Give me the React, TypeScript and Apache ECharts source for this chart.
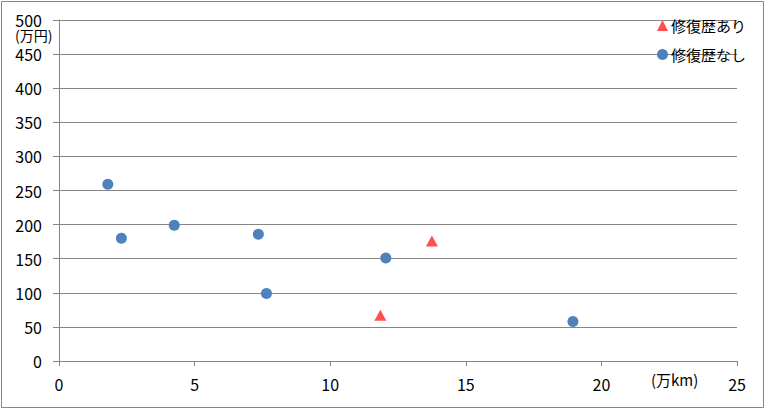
import React, { useEffect, useRef } from "react";
import * as echarts from "echarts";

const seriesNames = ["修復歴あり", "修復歴なし"];
// [distance (万km), price (万円)]
const repairedPoints: [number, number][] = [
  [11.85, 67],
  [13.75, 176],
];
const unrepairedPoints: [number, number][] = [
  [1.8, 259],
  [2.3, 180],
  [4.25, 199],
  [7.35, 186],
  [7.65, 99],
  [12.05, 151],
  [18.95, 58],
];
const xUnit = "(万km)";
const yUnit = "(万円)";

const FONT = "'Noto Sans CJK JP', 'Noto Sans', sans-serif";
const GRAY = "#868686";

export default function App() {
  const ref = useRef<HTMLDivElement>(null);
  useEffect(() => {
    if (!ref.current) return;
    const chart = echarts.init(ref.current, undefined, { renderer: "svg" });
    chart.setOption({
      animation: false,
      backgroundColor: "#fff",
      textStyle: { fontFamily: FONT },
      grid: { left: 59, top: 20, width: 678, height: 341, containLabel: false },
      xAxis: {
        type: "value",
        min: 0,
        max: 25,
        interval: 5,
        axisLine: { show: true, lineStyle: { color: GRAY, width: 1 } },
        axisTick: { show: true, length: 5, lineStyle: { color: GRAY } },
        splitLine: { show: false },
        axisLabel: { color: "#000", fontSize: 16, margin: 15, fontFamily: FONT },
      },
      yAxis: {
        type: "value",
        min: 0,
        max: 500,
        interval: 50,
        axisLine: { show: true, lineStyle: { color: GRAY, width: 1 } },
        axisTick: { show: true, length: 6, lineStyle: { color: GRAY } },
        splitLine: { show: true, lineStyle: { color: GRAY, width: 1 } },
        axisLabel: { color: "#000", fontSize: 16, margin: 17, fontFamily: FONT },
      },
      legend: {
        orient: "vertical",
        left: 652,
        top: 13,
        itemWidth: 11,
        itemHeight: 11,
        itemGap: 14,
        textStyle: { color: "#000", fontSize: 15, fontFamily: FONT, padding: [0, 0, 0, -2] },
        data: [
          { name: seriesNames[0], icon: "triangle" },
          { name: seriesNames[1], icon: "circle" },
        ],
      },
      series: [
        {
          name: seriesNames[0],
          type: "scatter",
          symbol: "triangle",
          symbolSize: [12, 11],
          itemStyle: { color: "#ff4f4f", opacity: 1 },
          data: repairedPoints,
        },
        {
          name: seriesNames[1],
          type: "scatter",
          symbol: "circle",
          symbolSize: 11,
          itemStyle: { color: "#4f81bd", opacity: 1 },
          data: unrepairedPoints,
        },
      ],
      graphic: [
        {
          type: "rect",
          shape: { x: 1.5, y: 1.5, width: 762, height: 406 },
          style: { fill: "none", stroke: GRAY, lineWidth: 1 },
          silent: true,
        },
        {
          type: "text",
          x: 15,
          y: 28,
          style: { text: yUnit, fontSize: 14, fill: "#000", fontFamily: FONT },
        },
        {
          type: "text",
          x: 651,
          y: 372,
          style: { text: xUnit, fontSize: 15, fill: "#000", fontFamily: FONT },
        },
      ],
    });
    return () => chart.dispose();
  }, []);
  return (
    <div
      ref={ref}
      style={{ position: "absolute", left: 0, top: 0, width: 767, height: 410 }}
    />
  );
}
